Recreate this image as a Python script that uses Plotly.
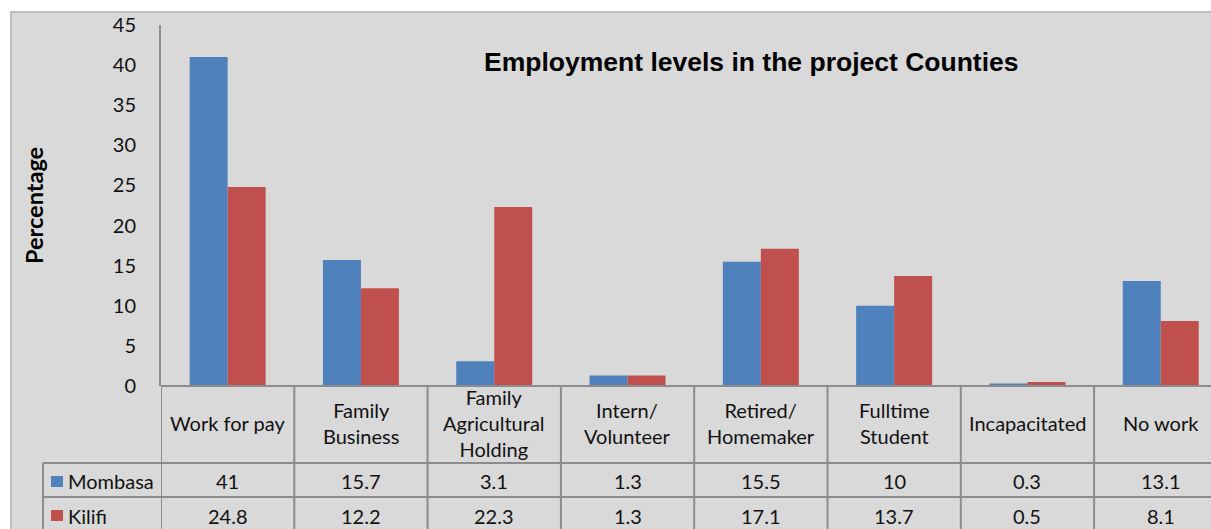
import plotly.graph_objects as go

categories = ["Work for pay", "Family Business", "Family Agricultural Holding",
              "Intern/ Volunteer", "Retired/ Homemaker", "Fulltime Student",
              "Incapacitated", "No work"]
category_labels = ["Work for pay", "Family<br>Business", "Family<br>Agricultural<br>Holding",
                   "Intern/<br>Volunteer", "Retired/<br>Homemaker", "Fulltime<br>Student",
                   "Incapacitated", "No work"]
mombasa = [41, 15.7, 3.1, 1.3, 15.5, 10, 0.3, 13.1]
kilifi = [24.8, 12.2, 22.3, 1.3, 17.1, 13.7, 0.5, 8.1]
series_names = ["Mombasa", "Kilifi"]
y_ticks = [0, 5, 10, 15, 20, 25, 30, 35, 40, 45]

W, H = 1211, 529
L, R, T, B = 161, 0, 25, 143
plot_h = H - T - B  # 361
plot_w = W - L - R  # 1050
col_w = 133.3

def py(pix):  # pixel y -> paper y
    return (H - B - pix) / plot_h

def px(pix):  # pixel x -> paper x
    return (pix - L) / plot_w

blue = "#4F81BD"
red = "#C0504D"
grid = "#8C8C8C"
txt = "#111111"
font_body = "Lato, 'Open Sans', sans-serif"

x = list(range(len(categories)))
fig = go.Figure()
fig.add_trace(go.Bar(x=x, y=mombasa, name=series_names[0], marker=dict(color=blue, line=dict(width=0))))
fig.add_trace(go.Bar(x=x, y=kilifi, name=series_names[1], marker=dict(color=red, line=dict(width=0))))

n = len(categories)
x_max = -0.5 + plot_w / col_w

shapes = []
shapes.append(dict(type="rect", xref="paper", yref="paper", x0=px(11), x1=px(W + 5),
                   y0=py(12), y1=py(H + 5), fillcolor="#D9D9D9",
                   line=dict(color="#BFBFBF", width=2), layer="below"))
shapes.append(dict(type="line", xref="x", yref="paper", x0=-0.5, x1=x_max, y0=0, y1=0,
                   line=dict(color=grid, width=2)))
for i in range(n + 1):
    xb = i - 0.5
    if xb > x_max:
        continue
    shapes.append(dict(type="line", xref="x", yref="paper", x0=xb, x1=xb, y0=0, y1=py(H + 5),
                       line=dict(color=grid, width=2)))
for ypix in [463, 497]:
    shapes.append(dict(type="line", xref="paper", yref="paper", x0=px(43), x1=1.0,
                       y0=py(ypix), y1=py(ypix), line=dict(color=grid, width=2)))
shapes.append(dict(type="line", xref="paper", yref="paper", x0=px(43), x1=px(43),
                   y0=py(463), y1=py(H + 5), line=dict(color=grid, width=2)))
for ypix, c in [(481.5, blue), (515.5, red)]:
    shapes.append(dict(type="rect", xref="paper", yref="paper", x0=px(51), x1=px(63),
                       y0=py(ypix - 5.5), y1=py(ypix + 5.5), fillcolor=c, line=dict(width=0)))

annotations = []
for i, lab in enumerate(category_labels):
    annotations.append(dict(x=i, y=py(423), xref="x", yref="paper", text=lab, showarrow=False,
                            font=dict(family=font_body, size=20, color=txt),
                            xanchor="center", yanchor="middle", align="center"))
for vals, ypix in [(mombasa, 480.5), (kilifi, 515.5)]:
    for i, v in enumerate(vals):
        annotations.append(dict(x=i, y=py(ypix), xref="x", yref="paper", text=f"{v:g}",
                                showarrow=False, font=dict(family=font_body, size=20, color=txt),
                                xanchor="center", yanchor="middle"))
for name, ypix in zip(series_names, [480.5, 515.5]):
    annotations.append(dict(x=px(66), y=py(ypix), xref="paper", yref="paper", text=name,
                            showarrow=False, font=dict(family=font_body, size=20, color=txt),
                            xanchor="left", yanchor="middle"))
annotations.append(dict(x=px(751), y=py(62), xref="paper", yref="paper",
                        text="<b>Employment levels in the project Counties</b>", showarrow=False,
                        font=dict(family="'Liberation Sans', Arial, sans-serif", size=26.5, color="#000"),
                        xanchor="center", yanchor="middle"))
annotations.append(dict(x=px(34), y=py(206), xref="paper", yref="paper",
                        text="<b>Percentage</b>", textangle=-90, showarrow=False,
                        font=dict(family=font_body, size=23.5, color="#000"),
                        xanchor="center", yanchor="middle"))

fig.update_layout(
    width=W, height=H,
    margin=dict(l=L, r=R, t=T, b=B, pad=0),
    paper_bgcolor="white",
    plot_bgcolor="rgba(0,0,0,0)",
    barmode="group",
    bargap=0.43,
    bargroupgap=0,
    showlegend=False,
    shapes=shapes,
    annotations=annotations,
    xaxis=dict(range=[-0.5, x_max], showticklabels=False, showgrid=False, zeroline=False,
               showline=False, ticks="", fixedrange=True),
    yaxis=dict(range=[0, 45], tickvals=y_ticks, showgrid=False, zeroline=False,
               showline=True, linecolor=grid, linewidth=2, ticks="",
               ticklabelstandoff=19,
               tickfont=dict(family=font_body, size=20, color=txt), fixedrange=True),
)

fig.write_html("out.html", config={"displayModeBar": False},
               post_script="document.body.style.margin='0';document.body.style.overflow='hidden';")
